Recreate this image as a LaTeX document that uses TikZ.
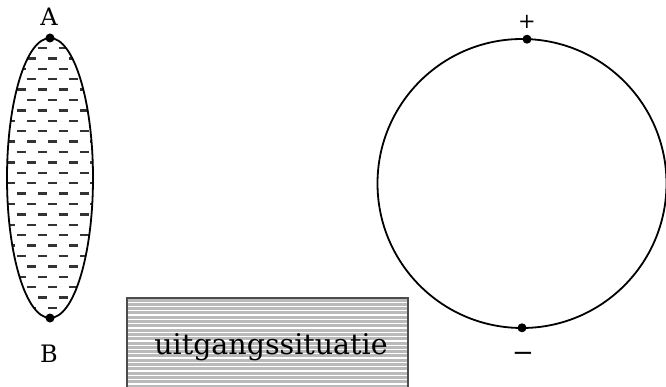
\documentclass[tikz,border=0pt]{standalone}
\usepackage{fontspec}
\setmainfont{DejaVu Serif}
\usepackage{tikz}
\tikzset{
  outline/.style={line width=1.8pt, black},
  pole/.style={circle, fill=black, inner sep=0pt, minimum size=9pt},
  lbl/.style={font=\fontsize{24}{24}\selectfont, inner sep=0pt},
  liquid/.style={line width=2.4pt, color=black!80},
}
\begin{document}
\begin{tikzpicture}[x=1pt,y=-1pt]
\useasboundingbox (0,0) rectangle (666,387);
\begin{scope}
\clip (0,0) rectangle (666,387);
% ellipse with liquid pattern
\coordinate (ec) at (50,178);
\begin{scope}
  \clip (ec) ellipse [x radius=43, y radius=140];
  \foreach \k in {-12,...,16}{
    \pgfmathsetmacro{\yy}{152+10.4*\k}
    \pgfmathsetmacro{\off}{ifthenelse(mod(abs(\k),2)==0,0,10.5)}
    \foreach \n in {-3,...,3}{
      \pgfmathsetmacro{\xx}{42-\off+21*\n}
      \draw[liquid] (\xx-4.5,\yy) -- (\xx+4.5,\yy);
    }
  }
\end{scope}
\draw[outline] (ec) ellipse [x radius=43, y radius=140];
\node[pole] (A) at (50,38) {};
\node[pole] (B) at (50,318) {};
\node[lbl, anchor=base] (la) at (49,26) {A};
\node[lbl, anchor=base] (lb) at (49,362) {B};
% circle
\coordinate (cc) at (522,183.5);
\draw[outline] (cc) circle [radius=144.5];
\node[pole] (P) at (527,39.2) {};
\node[pole] (M) at (522,327.8) {};
\node[inner sep=0pt, font=\fontsize{21}{21}\selectfont] (plus) at (527,22) {+};
\node[inner sep=0pt, font=\fontsize{26}{26}\selectfont] (minus) at (523,357) {−};
% box
\begin{scope}
  \clip (127,298) rectangle (408,392);
  \fill[black!27] (127,298) rectangle (408,392);
  \foreach \i in {0,...,22}{
    \fill[white] (127,301.5+4.3*\i) rectangle (408,302.8+4.3*\i);
  }
\end{scope}
\draw[black!70, line width=1.2pt] (127,392) -- (127,298) -- (408,298) -- (408,392);
\node[inner sep=0pt, font=\fontsize{28.5}{30}\selectfont, anchor=base] (txt) at (271,354) {uitgangssituatie};
\end{scope}
\end{tikzpicture}
\end{document}
